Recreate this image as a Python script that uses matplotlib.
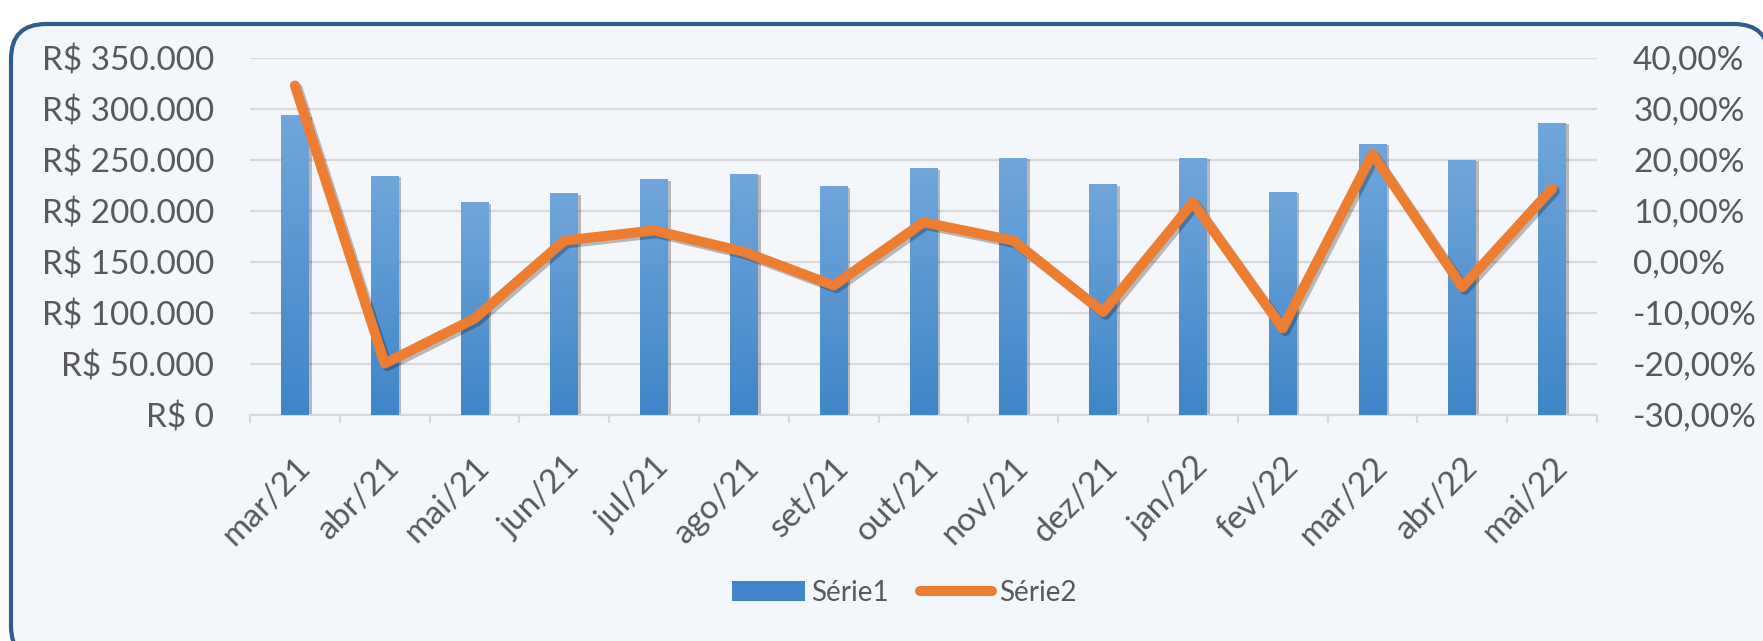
import numpy as np
import matplotlib
matplotlib.use("Agg")
from matplotlib import pyplot as plt
from matplotlib import patheffects as pe
from matplotlib.patches import FancyBboxPatch, Patch
from matplotlib.lines import Line2D
from matplotlib.colors import LinearSegmentedColormap
from matplotlib.ticker import FuncFormatter, FixedLocator
from matplotlib.transforms import ScaledTranslation, blended_transform_factory

plt.rcParams['font.family'] = ['Lato', 'DejaVu Sans']

# dados
meses = ['mar/21', 'abr/21', 'mai/21', 'jun/21', 'jul/21', 'ago/21', 'set/21', 'out/21',
         'nov/21', 'dez/21', 'jan/22', 'fev/22', 'mar/22', 'abr/22', 'mai/22']
serie1 = [294000, 234800, 208700, 217500, 231200, 236500, 224400, 241700,
          252100, 226000, 252000, 218900, 265800, 250200, 286700]
serie2 = [0.346, -0.199, -0.111, 0.042, 0.062, 0.020, -0.046, 0.078,
          0.042, -0.098, 0.117, -0.130, 0.212, -0.049, 0.144]
nomes = ['Série1', 'Série2']

azul_top, azul_base = '#70A6DB', '#3F86C8'
laranja = '#ED7D31'
cinza_txt = '#595959'
cinza_grid = '#D9D9D9'

fig = plt.figure(figsize=(17.63, 6.41), dpi=100)
fig.patch.set_facecolor('white')

# moldura arredondada
moldura = FancyBboxPatch((0.11, -0.2), 17.58, 6.17 + 0.2,
                         boxstyle='round,pad=0,rounding_size=0.35',
                         transform=fig.dpi_scale_trans,
                         facecolor='#F3F6FA', edgecolor='#2F5D8C', linewidth=3, zorder=-1)
fig.patches.append(moldura)

ax1 = fig.add_axes([250/1763, 1 - 415/641, (1597 - 250)/1763, (415 - 58)/641])
ax1.set_facecolor('none')
x = np.arange(len(meses))

bars = ax1.bar(x, serie1, width=0.31, color=azul_base, zorder=2,
               path_effects=[pe.SimplePatchShadow(offset=(2, -1), shadow_rgbFace='k', alpha=0.25), pe.Normal()])
cmap = LinearSegmentedColormap.from_list('azul', [azul_base, azul_top])
grad = np.linspace(0, 1, 256).reshape(-1, 1)
for b in bars:
    x0, w, h = b.get_x(), b.get_width(), b.get_height()
    im = ax1.imshow(grad, extent=[x0, x0 + w, 0, h], origin='lower', cmap=cmap,
                    aspect='auto', zorder=3)
    im.set_clip_path(b)

ax1.set_xlim(-0.5, len(meses) - 0.5)
ax1.set_ylim(0, 350000)
ax1.set_yticks(np.arange(0, 350001, 50000))
ax1.yaxis.set_major_formatter(FuncFormatter(lambda v, p: 'R$ ' + f'{int(v):,}'.replace(',', '.')))
ax1.grid(axis='y', color=cinza_grid, linewidth=1.6, zorder=0)
ax1.set_axisbelow(True)
for s in ['top', 'right', 'left']:
    ax1.spines[s].set_visible(False)
ax1.spines['bottom'].set_color(cinza_grid)
ax1.spines['bottom'].set_linewidth(1.6)

# rotulos do eixo x desenhados a mao para controlar a posicao
ax1.set_xticks(x)
ax1.set_xticklabels([])
ax1.xaxis.set_minor_locator(FixedLocator(np.arange(-0.5, len(meses), 1)))
ax1.tick_params(axis='x', which='major', length=0)
ax1.tick_params(axis='x', which='minor', length=6, width=1.6, color=cinza_grid)
ax1.tick_params(axis='y', length=0, pad=26, labelsize=24, labelcolor=cinza_txt)
trans = blended_transform_factory(ax1.transData, ax1.transAxes) + \
    ScaledTranslation(0, -37/100, fig.dpi_scale_trans)
for xi, m in zip(x, meses):
    ax1.text(xi, 0, m, transform=trans, rotation=45, ha='right', va='top',
             rotation_mode='anchor', fontsize=24, color=cinza_txt)

ax2 = ax1.twinx()
ax2.plot(x, serie2, color=laranja, linewidth=7.2, solid_capstyle='round', solid_joinstyle='round',
         zorder=4, path_effects=[pe.SimpleLineShadow(offset=(2, -2), alpha=0.25), pe.Normal()])
ax2.set_ylim(-0.30, 0.40)
ax2.set_yticks(np.arange(-0.30, 0.401, 0.10))
ax2.yaxis.set_major_formatter(FuncFormatter(lambda v, p: f'{v*100:.2f}%'.replace('.', ',')))
ax2.tick_params(axis='y', length=0, pad=26, labelsize=24, labelcolor=cinza_txt)
for s in ax2.spines.values():
    s.set_visible(False)

handles = [Patch(facecolor=azul_base, edgecolor='none'),
           Line2D([0], [0], color=laranja, linewidth=7.2, solid_capstyle='round')]
fig.legend(handles, nomes, loc='center', bbox_to_anchor=(0.513, 1 - 593/641), ncol=2,
           frameon=False, fontsize=20, handlelength=2.6, handleheight=0.75,
           handletextpad=0.25, columnspacing=1.1, labelcolor=cinza_txt)

fig.savefig('out.png', dpi=100, facecolor=fig.get_facecolor())
